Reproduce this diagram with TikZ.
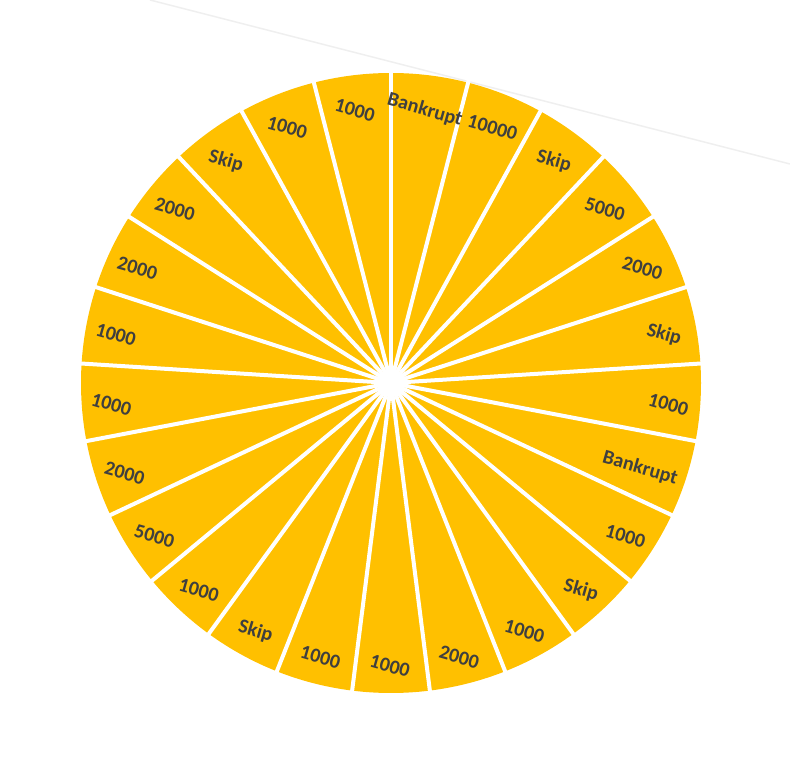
\documentclass[tikz,border=0pt]{standalone}
\usepackage{fontspec}
\setmainfont{Carlito}
\definecolor{gold}{HTML}{FFC000}
\definecolor{labelgray}{HTML}{3F3F3F}
\definecolor{faint}{HTML}{EFEFEF}
\tikzset{
  wheelfill/.style={fill=gold},
  separator/.style={draw=white, line width=4pt},
  wlabel/.style={text=labelgray, font=\bfseries\fontsize{20}{22}\selectfont, rotate=-16, inner sep=0pt},
  faintline/.style={draw=faint, line width=1.5pt}
}
\begin{document}
\begin{tikzpicture}[x=1pt,y=1pt]
\useasboundingbox (0,0) rectangle (790,766);
\coordinate (g1) at (150,766);
\coordinate (g2) at (790,602);
\draw[faintline] (g1) -- (g2);
\begin{scope}[shift={(391,383)}]
  \coordinate (c) at (0,0);
  \fill[wheelfill] (c) circle (310pt);
  \foreach \i in {0,...,24} {
    \coordinate (b\i) at ({90-14.4*\i}:314pt);
    \draw[separator] (c) -- (b\i);
  }
  \fill[white] (c) circle (12pt);
  \foreach \lab/\rr [count=\k] in {Bankrupt/279,10000/279,Skip/279,5000/279,2000/279,Skip/279,1000/279,Bankrupt/263,1000/279,Skip/279,1000/279,2000/279,1000/279,1000/279,Skip/279,1000/279,5000/279,2000/279,1000/279,1000/279,2000/279,2000/279,Skip/279,1000/279,1000/279} {
    \node[wlabel, yshift=-4pt] (l\k) at ({90-14.4*(\k-0.5)}:\rr pt) {\lab};
  }
\end{scope}
\end{tikzpicture}
\end{document}
